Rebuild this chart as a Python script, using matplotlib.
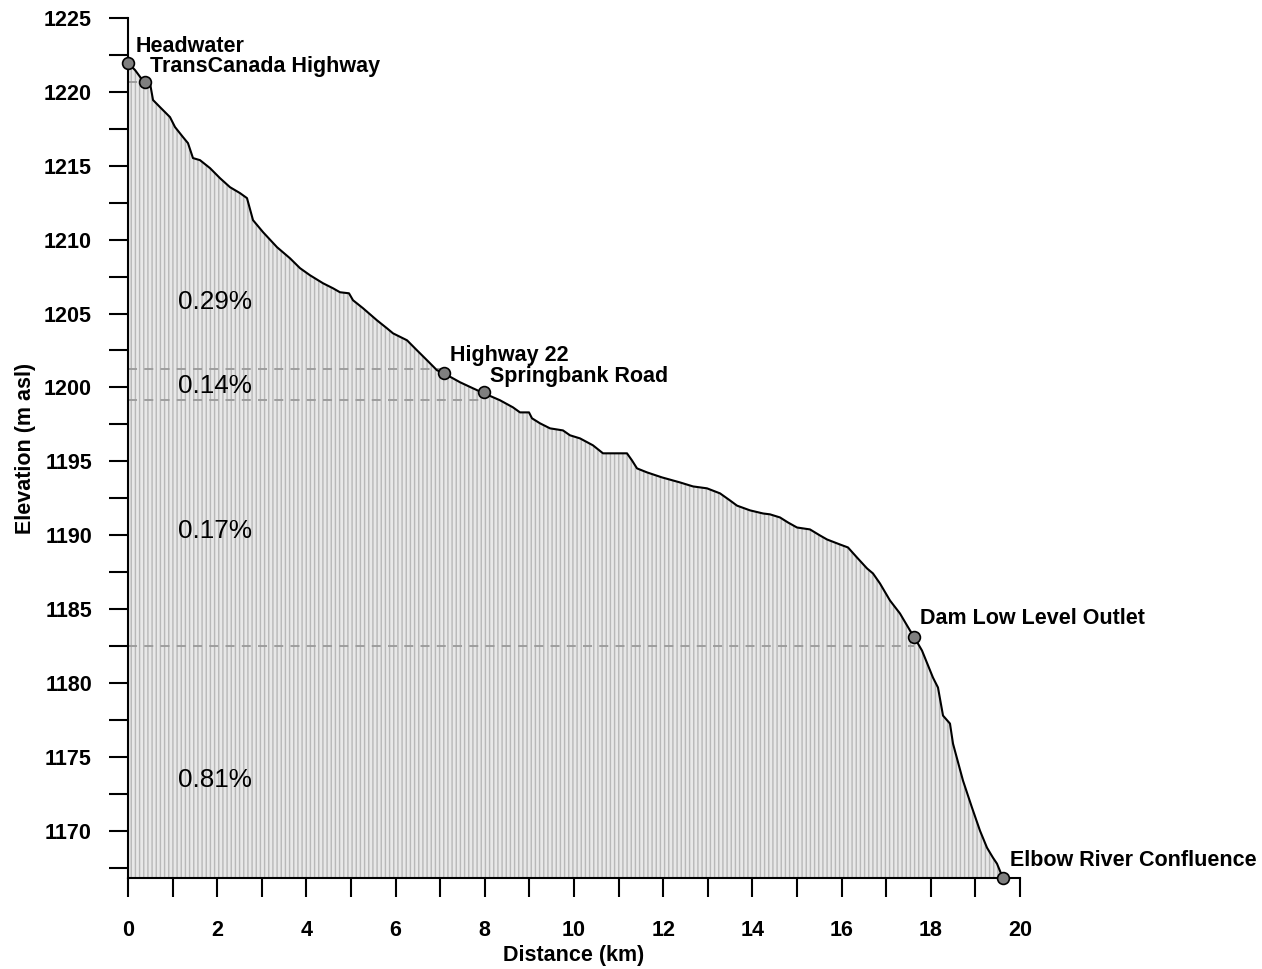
import matplotlib
matplotlib.use("Agg")
import matplotlib.pyplot as plt
from matplotlib.ticker import MultipleLocator

plt.rcParams['font.family'] = ['Liberation Sans', 'DejaVu Sans']
plt.rcParams['hatch.linewidth'] = 1.0
plt.rcParams['hatch.color'] = '#b8b8b8'

# Longitudinal profile (distance km, elevation m asl)
distance_km = [0.0, 0.157, 0.336, 0.493, 0.561, 0.717, 0.942, 1.054, 1.233, 1.345,
               1.457, 1.614, 1.839, 2.063, 2.287, 2.511, 2.668, 2.803, 3.027, 3.341,
               3.632, 3.857, 4.081, 4.372, 4.596, 4.753, 4.955, 5.045, 5.269, 5.583,
               5.807, 5.942, 6.256, 6.480, 6.704, 6.928, 7.085, 7.444, 7.735, 7.982,
               8.341, 8.632, 8.789, 8.991, 9.058, 9.238, 9.462, 9.753, 9.910, 10.135,
               10.426, 10.650, 11.188, 11.300, 11.413, 11.637, 11.973, 12.377, 12.668, 12.982,
               13.274, 13.498, 13.655, 13.946, 14.238, 14.395, 14.619, 14.798, 15.000, 15.291,
               15.516, 15.673, 15.964, 16.143, 16.345, 16.570, 16.704, 16.861, 17.085, 17.309,
               17.534, 17.623, 17.803, 18.049, 18.161, 18.274, 18.430, 18.498, 18.722, 18.924,
               19.103, 19.260, 19.395, 19.484, 19.596, 19.619]
elevation_m = [1221.95, 1221.48, 1220.75, 1220.60, 1219.45, 1218.97, 1218.29, 1217.62, 1216.94, 1216.53,
               1215.52, 1215.38, 1214.84, 1214.16, 1213.55, 1213.15, 1212.81, 1211.32, 1210.51, 1209.49,
               1208.74, 1208.07, 1207.59, 1207.05, 1206.71, 1206.44, 1206.37, 1205.90, 1205.36, 1204.54,
               1204.00, 1203.66, 1203.19, 1202.51, 1201.84, 1201.16, 1200.95, 1200.35, 1199.94, 1199.60,
               1199.13, 1198.65, 1198.31, 1198.31, 1197.91, 1197.57, 1197.23, 1197.09, 1196.76, 1196.55,
               1196.08, 1195.54, 1195.54, 1195.06, 1194.52, 1194.25, 1193.91, 1193.57, 1193.30, 1193.17,
               1192.83, 1192.35, 1192.00, 1191.68, 1191.47, 1191.41, 1191.20, 1190.86, 1190.52, 1190.39,
               1189.98, 1189.71, 1189.37, 1189.17, 1188.49, 1187.75, 1187.41, 1186.73, 1185.58, 1184.70,
               1183.55, 1183.13, 1182.19, 1180.36, 1179.69, 1177.79, 1177.25, 1175.89, 1173.39, 1171.56,
               1170.00, 1168.85, 1168.17, 1167.77, 1166.95, 1166.80]

# Key locations
site_names = ["Headwater", "TransCanada Highway", "Highway 22", "Springbank Road",
              "Dam Low Level Outlet", "Elbow River Confluence"]
site_km = [0.0, 0.38, 7.09, 7.98, 17.62, 19.62]
site_elev = [1221.95, 1220.67, 1200.95, 1199.66, 1183.13, 1166.80]
label_km = [0.16, 0.49, 7.22, 8.12, 17.76, 19.78]
label_elev = [1223.10, 1221.75, 1202.17, 1200.75, 1184.36, 1167.97]

# Reach boundary lines (elevation, end distance)
boundary_elev = [1220.67, 1201.22, 1199.13, 1182.52]
boundary_end_km = [0.38, 7.09, 7.98, 17.62]

# Reach slopes
slope_labels = ["0.29%", "0.14%", "0.17%", "0.81%"]
slope_elev = [1205.8, 1200.07, 1190.25, 1173.46]
slope_km = 1.95

y_bottom = 1166.8

fig = plt.figure(figsize=(12.62, 9.69), dpi=100)
ax = fig.add_axes([128/1262, 1-878/969, (1020-128)/1262, (878-18)/969])

ax.fill_between(distance_km, elevation_m, y_bottom, facecolor='#e8e8e8',
                hatch='||||', edgecolor='#b8b8b8', linewidth=0, zorder=1)
ax.plot(distance_km, elevation_m, color='black', lw=1.5, zorder=3)

for e, xe in zip(boundary_elev, boundary_end_km):
    ax.plot([0, xe], [e, e], color='#999999', lw=1.3, ls=(0, (5, 4)), zorder=2)

ax.plot(site_km, site_elev, 'o', ms=8.5, mfc='#7f7f7f', mec='black', mew=1.2,
        zorder=5, clip_on=False)
for name, xk, yk in zip(site_names, label_km, label_elev):
    ax.text(xk, yk, name, fontsize=15.5, fontweight='bold', ha='left', va='center',
            zorder=6)

for s, e in zip(slope_labels, slope_elev):
    ax.text(slope_km, e, s, fontsize=18.8, ha='center', va='center', zorder=6)

ax.set_xlim(0, 20)
ax.set_ylim(y_bottom, 1225)
ax.xaxis.set_major_locator(MultipleLocator(2))
ax.xaxis.set_minor_locator(MultipleLocator(1))
ax.yaxis.set_major_locator(MultipleLocator(5))
ax.yaxis.set_minor_locator(MultipleLocator(2.5))

for side in ['top', 'right']:
    ax.spines[side].set_visible(False)
for side in ['left', 'bottom']:
    ax.spines[side].set_linewidth(1.5)

ax.tick_params(which='both', direction='out', length=14, width=1.5)
ax.tick_params(axis='y', which='major', pad=12, labelsize=15.5)
ax.tick_params(axis='x', which='major', pad=16, labelsize=15.5)
for lbl in ax.get_xticklabels() + ax.get_yticklabels():
    lbl.set_fontweight('bold')

ax.set_xlabel('Distance (km)', fontsize=15.5, fontweight='bold', labelpad=3)
ax.set_ylabel('Elevation (m asl)', fontsize=15.5, fontweight='bold', labelpad=6)

fig.savefig('out.png', dpi=100)
